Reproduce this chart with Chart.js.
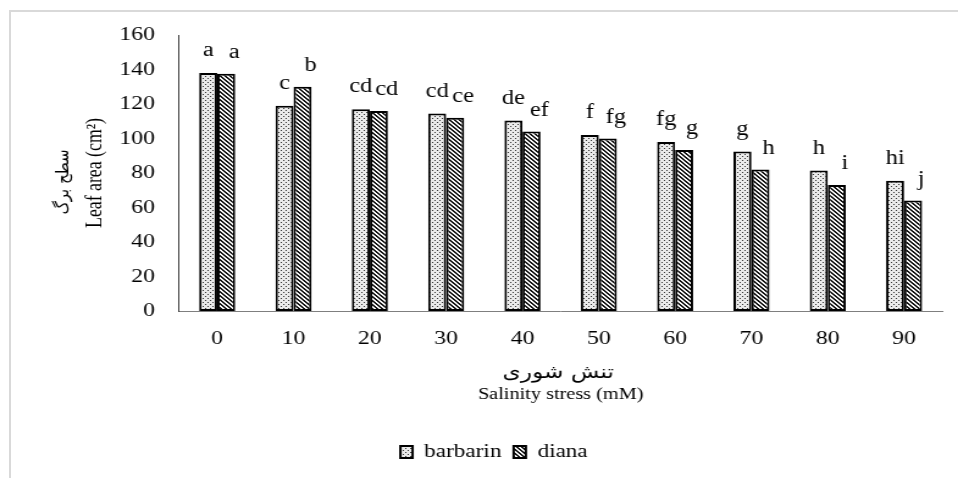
<!DOCTYPE html>
<html>
<head>
<meta charset="utf-8">
<script src="https://cdn.jsdelivr.net/npm/chart.js@4.4.1/dist/chart.umd.min.js"></script>
<style>
  html, body { margin: 0; padding: 0; background: #fff; overflow: hidden; }
  #wrap { position: absolute; left: 0; top: 0; width: 785px; height: 478px;
          transform: scaleX(1.2204); transform-origin: 0 0; }
  #frame { position: absolute; left: 9px; top: 10px; width: 949px; height: 468px;
           border-left: 2px solid #d9d9d9; border-top: 2px solid #d9d9d9; box-sizing: border-box;
           pointer-events: none; }
</style>
</head>
<body>
<div id="wrap"><canvas id="chart" width="785" height="478"></canvas></div>
<div id="frame"></div>
<script>
// Salinity levels (mM) and mean leaf area (cm²) per cultivar
const salinity = ['0', '10', '20', '30', '40', '50', '60', '70', '80', '90'];
const barbarin = [138, 119, 117, 114.5, 110.5, 102, 98, 92.5, 81.5, 75.5];
const diana    = [137.5, 130, 116, 112, 104, 100, 93.3, 82, 73, 64];

// Mean-separation letters
const barbarinLetters = ['a', 'c', 'cd', 'cd', 'de', 'f', 'fg', 'g', 'h', 'hi'];
const dianaLetters    = ['a', 'b', 'cd', 'ce', 'ef', 'fg', 'g', 'h', 'i', 'j'];

// Axis titles (Persian and English)
const xTitleFa = 'تنش شوری';
const xTitleEn = 'Salinity stress (mM)';
const yTitleFa = 'سطح برگ';
const yTitleEn = 'Leaf area (cm²)';

const yMin = 0, yMax = 160, yStep = 20;

const SERIF = "'Liberation Serif', 'DejaVu Serif', serif";
const ARABIC = "'DejaVu Sans', sans-serif";

// Fill patterns: fine stipple and dark diagonal hatch
function tilePattern(size, shade) {
  const c = document.createElement('canvas');
  c.width = size; c.height = size;
  const g = c.getContext('2d');
  const img = g.createImageData(size, size);
  for (let y = 0; y < size; y++) {
    for (let x = 0; x < size; x++) {
      const i = (y * size + x) * 4;
      const v = shade(x, y);
      img.data[i] = img.data[i + 1] = img.data[i + 2] = v;
      img.data[i + 3] = 255;
    }
  }
  g.putImageData(img, 0, 0);
  return g.createPattern(c, 'repeat');
}
const stipple = () => tilePattern(4, (x, y) => ((x === 0 && y === 0) || (x === 2 && y === 2)) ? 51 : 234);
const hatch = () => tilePattern(4, (x, y) => {
  const m = ((x - y) % 4 + 4) % 4;
  return (m === 0 || m === 1) ? 20 : 250;
});

// Letters above each bar
const letterPlugin = {
  id: 'letters',
  afterDatasetsDraw(chart) {
    const ctx = chart.ctx;
    const sets = [
      { letters: barbarinLetters, dx: 0, dy: 22 },
      { letters: dianaLetters, dx: 6.5, dy: 21 }
    ];
    ctx.save();
    ctx.font = '20px ' + SERIF;
    ctx.fillStyle = '#000';
    ctx.textAlign = 'center';
    ctx.textBaseline = 'middle';
    sets.forEach((s, di) => {
      chart.getDatasetMeta(di).data.forEach((bar, i) => {
        ctx.fillText(s.letters[i], bar.x + s.dx, bar.y - s.dy);
      });
    });
    ctx.restore();
  }
};

// Persian lines of the axis titles, set in an Arabic face
const persianTitles = {
  id: 'persianTitles',
  afterDraw(chart) {
    const { ctx, chartArea } = chart;
    ctx.save();
    ctx.fillStyle = '#000';
    ctx.textAlign = 'center';
    ctx.textBaseline = 'middle';
    ctx.font = '19px ' + ARABIC;
    ctx.fillText(xTitleFa, (chartArea.left + chartArea.right) / 2 - 2, chartArea.bottom + 62);
    ctx.translate(52, (chartArea.top + chartArea.bottom) / 2 + 9);
    ctx.rotate(-Math.PI / 2);
    ctx.font = '15px ' + ARABIC;
    ctx.fillText(yTitleFa, 0, 0);
    ctx.restore();
  }
};

const barBorder = { top: 2, bottom: 2, left: 2, right: 2 };

new Chart(document.getElementById('chart'), {
  type: 'bar',
  data: {
    labels: salinity,
    datasets: [
      { label: 'barbarin', data: barbarin, backgroundColor: stipple(), borderColor: '#000',
        borderWidth: barBorder, borderSkipped: false },
      { label: 'diana', data: diana, backgroundColor: hatch(), borderColor: '#000',
        borderWidth: barBorder, borderSkipped: false }
    ]
  },
  options: {
    responsive: false,
    animation: false,
    devicePixelRatio: 1,
    layout: { padding: { left: 37.5, right: 12.9, top: 35, bottom: 6.5 } },
    datasets: { bar: { categoryPercentage: 0.472, barPercentage: 1.0 } },
    plugins: {
      legend: {
        position: 'bottom',
        labels: {
          font: { family: SERIF, size: 19 },
          color: '#000',
          boxWidth: 10,
          boxHeight: 12,
          padding: 10
        }
      },
      tooltip: { enabled: false }
    },
    scales: {
      x: {
        grid: { display: false, drawTicks: false },
        border: { display: true, color: '#7f7f7f', width: 1 },
        ticks: { color: '#000', font: { family: SERIF, size: 19.5 }, padding: 16.3 },
        title: {
          display: true,
          text: xTitleEn,
          color: '#000',
          font: { family: SERIF, size: 16.6, lineHeight: 1.3 },
          padding: { top: 0, bottom: 27.2 }
        },
        afterFit(scale) { scale.height = 121.5; }
      },
      y: {
        min: yMin,
        max: yMax,
        grid: { display: false, drawTicks: false },
        border: { display: true, color: '#404040', width: 1 },
        ticks: { stepSize: yStep, color: '#000', font: { family: SERIF, size: 19.5 }, padding: 19.7 },
        title: {
          display: true,
          text: yTitleEn,
          color: '#000',
          font: { family: SERIF, size: 17.8, lineHeight: 1.52 },
          padding: { top: 27.6, bottom: 0 }
        },
        afterFit(scale) { scale.width = 146.7 - 37.5; }
      }
    }
  },
  plugins: [letterPlugin, persianTitles]
});
</script>
</body>
</html>
